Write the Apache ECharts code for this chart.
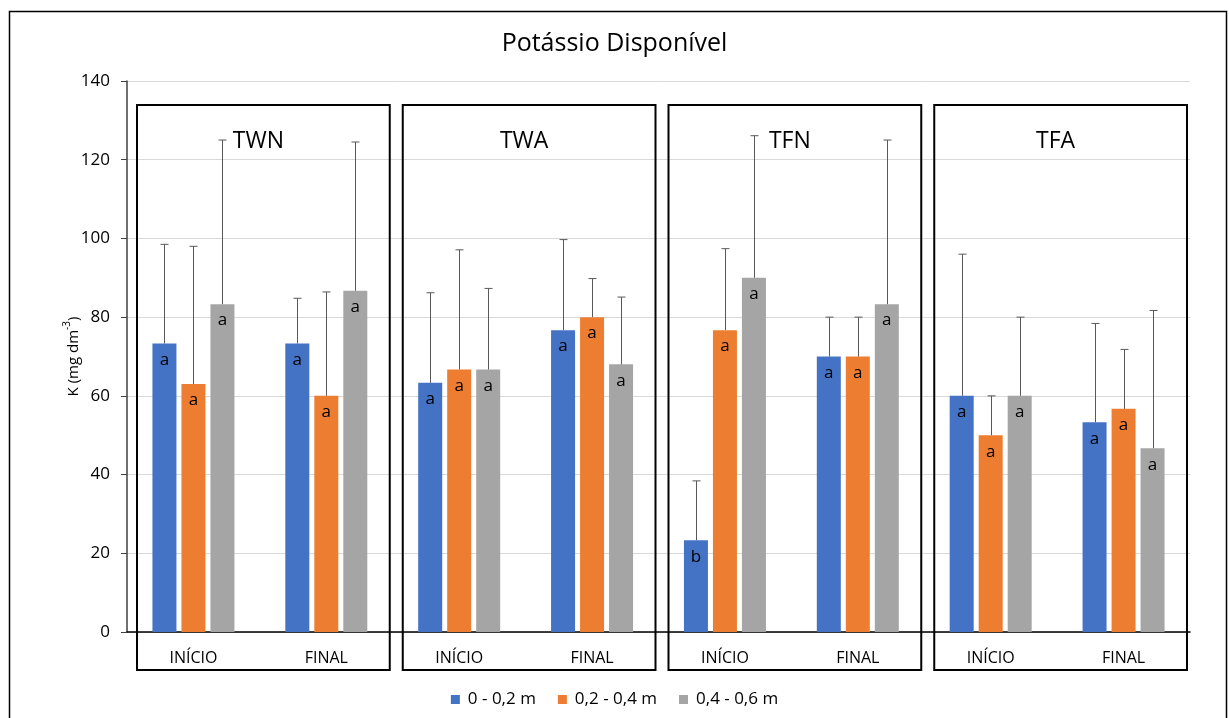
<!DOCTYPE html>
<html>
<head>
<meta charset="utf-8">
<script src="https://cdn.jsdelivr.net/npm/echarts@6/dist/echarts.min.js"></script>
<style>
html,body{margin:0;padding:0;background:#fff;}
#c{width:1229px;height:718px;}
</style>
</head>
<body>
<div id="c"></div>
<script>
var categories = ['INÍCIO','FINAL','INÍCIO','FINAL','INÍCIO','FINAL','INÍCIO','FINAL'];
var panels = ['TWN','TWA','TFN','TFA'];
var seriesNames = ['0 - 0,2 m','0,2 - 0,4 m','0,4 - 0,6 m'];
var depth1 = [73.3, 73.3, 63.3, 76.7, 23.3, 70, 60, 53.3];
var depth2 = [63, 60, 66.7, 80, 76.7, 70, 50, 56.7];
var depth3 = [83.3, 86.7, 66.7, 68, 90, 83.3, 60, 46.7];
var errTop1 = [98.5, 84.8, 86.2, 99.7, 38.4, 80, 96, 78.4];
var errTop2 = [98, 86.4, 97.1, 89.8, 97.4, 80, 60, 71.8];
var errTop3 = [125, 124.5, 87.3, 85.1, 126.1, 125, 80, 81.7];
var letters1 = ['a','a','a','a','b','a','a','a'];
var letters2 = ['a','a','a','a','a','a','a','a'];
var letters3 = ['a','a','a','a','a','a','a','a'];
var yTicks = [0, 20, 40, 60, 80, 100, 120, 140];

var colors = ['#4472C4','#ED7D31','#A5A5A5'];
var FONT = 'Open Sans';
var BAR_W = 24, BAR_GAP = 5;

var chart = echarts.init(document.getElementById('c'), null, {renderer:'canvas'});

var values = [depth1, depth2, depth3];
var tops = [errTop1, errTop2, errTop3];
var letters = [letters1, letters2, letters3];

var series = [];
for (var s = 0; s < 3; s++) {
  (function(s){
    series.push({
      name: seriesNames[s],
      type: 'bar',
      barWidth: BAR_W,
      barGap: (BAR_GAP / BAR_W * 100) + '%',
      itemStyle: {color: colors[s]},
      data: values[s],
      z: 2,
      label: {
        show: true,
        position: 'insideTop',
        distance: 8,
        fontFamily: FONT,
        fontSize: 17,
        color: '#000',
        formatter: function(p){ return letters[s][p.dataIndex]; }
      }
    });
  })(s);
}
for (var s2 = 0; s2 < 3; s2++) {
  (function(s){
    var data = values[s].map(function(v, i){ return [i, v, tops[s][i]]; });
    series.push({
      type: 'custom',
      name: 'err' + s,
      z: 3,
      silent: true,
      renderItem: function(params, api){
        var c = api.value(0);
        var p0 = api.coord([c, api.value(1)]);
        var p1 = api.coord([c, api.value(2)]);
        var off = (s - 1) * (BAR_W + BAR_GAP);
        var x = Math.round(p0[0] + off) + 0.5;
        var st = {stroke:'#595959', lineWidth:1};
        return {type:'group', children:[
          {type:'line', shape:{x1:x, y1:p0[1], x2:x, y2:p1[1]}, style:st},
          {type:'line', shape:{x1:x-4, y1:p1[1], x2:x+4, y2:p1[1]}, style:st}
        ]};
      },
      encode: {x:0, y:[1,2]},
      data: data
    });
  })(s2);
}

var option = {
  animation: false,
  backgroundColor: '#fff',
  title: {
    text: 'Potássio Disponível',
    left: 'center',
    top: 26,
    textStyle: {fontFamily: FONT, fontSize: 25, fontWeight: 'normal', color: '#000'}
  },
  legend: {
    data: seriesNames,
    top: 686,
    left: 'center',
    itemWidth: 9,
    itemHeight: 9,
    itemGap: 22,
    icon: 'rect',
    textStyle: {fontFamily: FONT, fontSize: 17, color: '#000', padding: [0, 0, 0, 3]}
  },
  grid: {left: 127, right: 39, top: 81, bottom: 86, containLabel: false},
  xAxis: {
    type: 'category',
    data: categories,
    axisLine: {show: true, lineStyle: {color: '#000', width: 1.5}},
    axisTick: {show: false},
    axisLabel: {fontFamily: FONT, fontSize: 16, color: '#000', margin: 18},
    splitLine: {show: false}
  },
  yAxis: {
    type: 'value',
    min: 0, max: 140, interval: 20,
    name: '{a|K (mg dm}{s|-3}{a|)}',
    nameLocation: 'middle',
    nameGap: 46,
    nameMoveOverlap: false,
    nameTextStyle: {
      fontFamily: FONT, fontSize: 15, color: '#000',
      rich: {
        a: {fontFamily: FONT, fontSize: 15, color: '#000', lineHeight: 19, verticalAlign: 'bottom'},
        s: {fontFamily: FONT, fontSize: 10, color: '#000', lineHeight: 19, verticalAlign: 'top', padding: [0, 0, 6, 0]}
      }
    },
    axisLine: {show: true, lineStyle: {color: '#404040', width: 1.5}},
    axisTick: {show: true, inside: false, length: 6, lineStyle: {color: '#404040'}},
    axisLabel: {fontFamily: FONT, fontSize: 17, color: '#000', margin: 17,
      formatter: function(v){ return yTicks.indexOf(v) >= 0 ? String(v) : ''; }},
    splitLine: {show: true, lineStyle: {color: '#d9d9d9', width: 1}}
  },
  series: series
};
chart.setOption(option);

// Decorative panel boxes and outer border derived from the axis positions
var x0 = chart.convertToPixel({xAxisIndex:0}, 0);
var x1 = chart.convertToPixel({xAxisIndex:0}, 1);
var band = x1 - x0;
var yTop = chart.convertToPixel({yAxisIndex:0}, 140);
var yZero = chart.convertToPixel({yAxisIndex:0}, 0);
var graphics = [];
for (var i = 0; i < panels.length; i++) {
  var left = chart.convertToPixel({xAxisIndex:0}, 2*i) - band/2 + 10;
  var w = 2*band - 13;
  graphics.push({
    type:'rect', z: 10, silent: true,
    shape:{x:left, y:yTop + 24, width:w, height:(yZero + 38) - (yTop + 24)},
    style:{fill:'none', stroke:'#000', lineWidth:2}
  });
  graphics.push({
    type:'text', z: 10, silent: true,
    x: left + w/2 - 5, y: yTop + 60,
    style:{text: panels[i], fontFamily: FONT, fontSize: 23, fill:'#000', align:'center', verticalAlign:'middle'}
  });
}
graphics.push({
  type:'rect', z: 10, silent: true,
  shape:{x:9.5, y:11.5, width:1217, height:720},
  style:{fill:'none', stroke:'#000', lineWidth:1.5}
});
chart.setOption({graphic: graphics});
</script>
</body>
</html>
